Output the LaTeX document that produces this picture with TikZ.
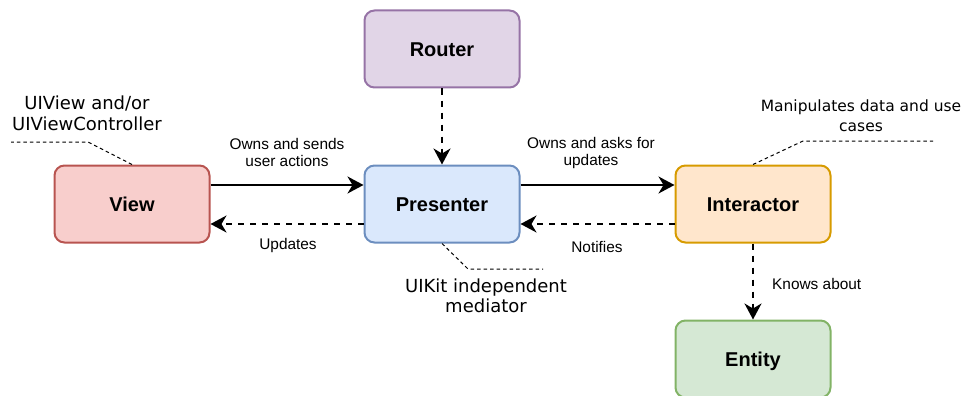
\documentclass[tikz,border=0pt]{standalone}
\usepackage{fontspec}
\setmainfont{Liberation Sans}
\newfontfamily\calloutfont{DejaVu Sans}
\usetikzlibrary{arrows.meta}
\definecolor{viewfill}{HTML}{F8CECC}\definecolor{viewline}{HTML}{B85450}
\definecolor{presfill}{HTML}{DAE8FC}\definecolor{presline}{HTML}{6C8EBF}
\definecolor{intfill}{HTML}{FFE6CC}\definecolor{intline}{HTML}{D79B00}
\definecolor{entfill}{HTML}{D5E8D4}\definecolor{entline}{HTML}{82B366}
\definecolor{roufill}{HTML}{E1D5E7}\definecolor{rouline}{HTML}{9673A6}
\begin{document}
\begin{tikzpicture}[x=1pt,y=-1pt,
  box/.style={draw, line width=2pt, rounded corners=10pt, minimum width=155pt, minimum height=77pt,
    font=\fontsize{20}{24}\selectfont\bfseries, text height=14.5pt, text depth=0pt, inner sep=0pt},
  conn/.style={line width=2pt, -{Stealth[length=16pt,width=17pt,inset=5pt]}},
  dconn/.style={conn, dash pattern=on 6pt off 6pt},
  lbl/.style={font=\fontsize{15.4}{17}\selectfont, align=center, anchor=base, inner sep=0pt},
  callout/.style={align=center, anchor=base, inner sep=0pt},
  cline/.style={line width=1pt, dash pattern=on 3.5pt off 3pt}]
\useasboundingbox (0,0) rectangle (964,396);
\node[box, fill=viewfill, draw=viewline] (view) at (132,204) {View};
\node[box, fill=presfill, draw=presline] (pres) at (442,204) {Presenter};
\node[box, fill=intfill, draw=intline] (inter) at (753,204) {Interactor};
\node[box, fill=roufill, draw=rouline] (router) at (442,49) {Router};
\node[box, fill=entfill, draw=entline] (entity) at (753,359) {Entity};
% connectors
\draw[conn] ([yshift=19pt]view.east) -- ([yshift=19pt]pres.west);
\draw[dconn] ([yshift=-20pt]pres.west) -- ([yshift=-20pt]view.east);
\draw[conn] ([yshift=19pt]pres.east) -- ([yshift=19pt]inter.west);
\draw[dconn] ([yshift=-20pt]inter.west) -- ([yshift=-20pt]pres.east);
\draw[dconn] (router.south) -- (pres.north);
\draw[dconn] (inter.south) -- (entity.north);
% labels (anchor = baseline of last line)
\node[lbl] (l1) at (287,166) {Owns and sends\\user actions};
\node[lbl] (l2) at (288,249) {Updates};
\node[lbl] (l3) at (591,165) {Owns and asks for\\updates};
\node[lbl] (l4) at (597,252) {Notifies};
\node[lbl, anchor=base west] (l5) at (772,289) {Knows about};
% callouts
\node[callout, font=\calloutfont\fontsize{18}{21}\selectfont] (c1) at (87,130) {UIView and/or\\UIViewController};
\node[callout, font=\calloutfont\fontsize{15.5}{20}\selectfont] (c2) at (861,131) {Manipulates data and use\\cases};
\node[callout, font=\calloutfont\fontsize{18}{19.5}\selectfont] (c3) at (486,312) {UIKit independent\\mediator};
\coordinate (c1a) at (88,142); \coordinate (c1b) at (11,142);
\coordinate (c2a) at (803,141); \coordinate (c2b) at (933,141);
\coordinate (c3a) at (468,269); \coordinate (c3b) at (543,269);
\draw[cline] (view.north) -- (c1a) -- (c1b);
\draw[cline] (inter.north) -- (c2a) -- (c2b);
\draw[cline] (pres.south) -- (c3a) -- (c3b);
\end{tikzpicture}
\end{document}
